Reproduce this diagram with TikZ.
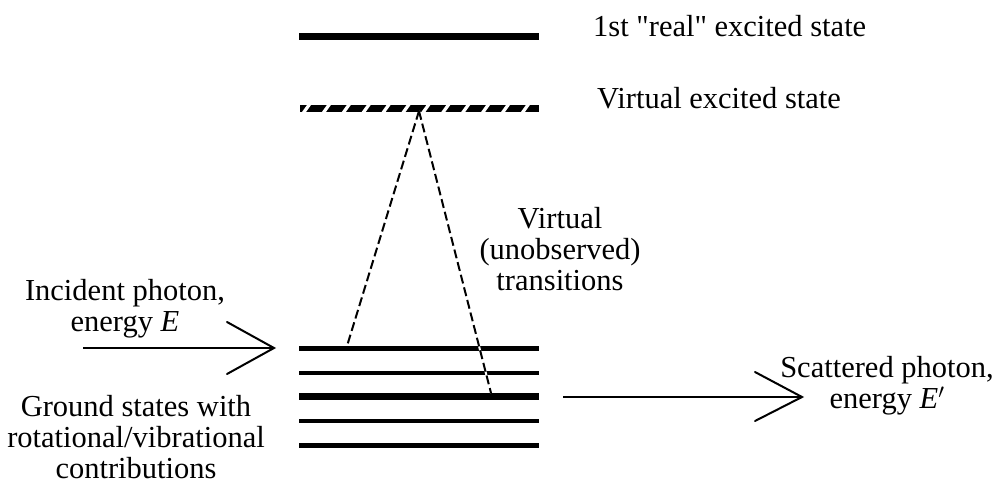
\documentclass[tikz,border=0pt]{standalone}
\usepackage{fontspec}
\setmainfont{Liberation Serif}[Ligatures=TeXOff]
\begin{document}
\begin{tikzpicture}[x=1pt,y=-1pt,
  lbl/.style={font=\fontsize{30.5}{31}\selectfont, inner sep=0pt, align=center, anchor=base},
  lblL/.style={font=\fontsize{30.5}{31}\selectfont, inner sep=0pt, anchor=base west},
  level/.style={line width=#1},
  trans/.style={line width=2pt, dash pattern=on 9pt off 4pt},
  photon/.style={line width=2pt}
]
\useasboundingbox (0,0) rectangle (1004,487);

% real excited state
\coordinate (realL) at (299,37);
\coordinate (realR) at (539,37);
\draw[level=7pt] (realL) -- (realR);

% virtual excited state (hatched)
\coordinate (virtL) at (300,108.5);
\coordinate (virtR) at (539,108.5);
\fill[black] (300,105) rectangle (539,112);
\foreach \i in {0,...,11} {
  \fill[white] ({302+19.9*\i},112) -- ({306+19.9*\i},112) -- ({311+19.9*\i},105) -- ({307+19.9*\i},105) -- cycle;
}

% ground states
\coordinate (g1L) at (299,348.5); \coordinate (g1R) at (539,348.5);
\coordinate (g2L) at (299,372.5); \coordinate (g2R) at (539,372.5);
\coordinate (g3L) at (299,396.5); \coordinate (g3R) at (539,396.5);
\coordinate (g4L) at (299,420.5); \coordinate (g4R) at (539,420.5);
\coordinate (g5L) at (299,445);   \coordinate (g5R) at (539,445);
\draw[level=5pt] (g1L) -- (g1R);
\draw[level=4pt] (g2L) -- (g2R);
\draw[level=7pt] (g3L) -- (g3R);
\draw[level=4pt] (g4L) -- (g4R);
\draw[level=5pt] (g5L) -- (g5R);

% virtual transitions
\coordinate (apex) at (419,111);
\coordinate (up) at (347,346);
\coordinate (down) at (491,393);
\draw[white, line width=2pt] (apex) -- (down);
\draw[trans] (apex) -- (up);
\draw[trans] (apex) -- (down);

% incident photon
\coordinate (inS) at (83,348);
\coordinate (inT) at (274,348);
\draw[photon] (inS) -- (inT);
\draw[photon, line cap=round] (227,322) -- (inT) -- (227,374);

% scattered photon
\coordinate (scS) at (563,397);
\coordinate (scT) at (802,397);
\draw[photon] (scS) -- (scT);
\draw[photon, line cap=round] (755,372) -- (scT) -- (755,421);

% labels
\node[lblL] (treal) at (593,37) {1st "real" excited state};
\node[lblL] (tvirt) at (597,108) {Virtual excited state};
\node[lbl] (ttrans) at (560,290) {Virtual\\(unobserved)\\transitions};
\node[lbl] (tinc) at (125,331) {Incident photon,\\energy \textit{E}};
\node[lbl] (tground) at (136,478) {Ground states with\\rotational/vibrational\\contributions};
\node[lbl] (tscat) at (887,408) {Scattered photon,\\energy \textit{E}$'$};
\end{tikzpicture}
\end{document}
